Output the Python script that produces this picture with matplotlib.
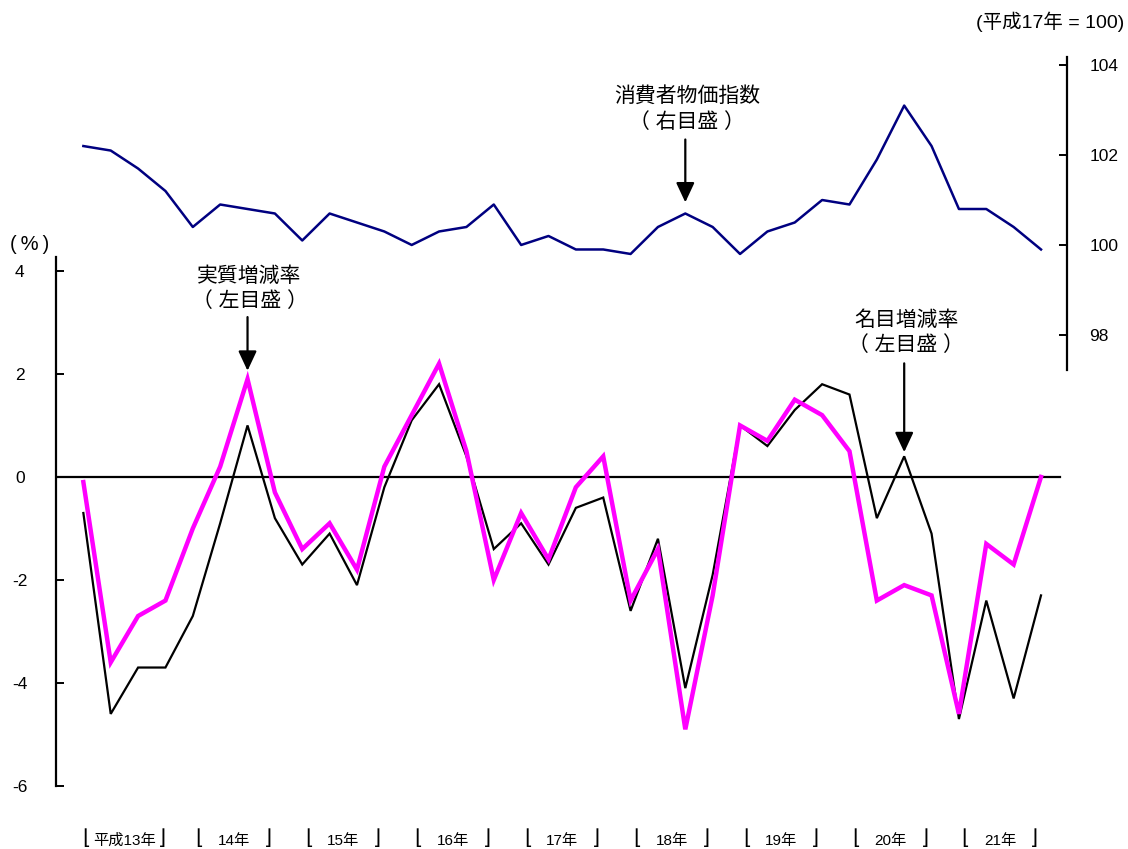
import matplotlib
matplotlib.use("Agg")
import matplotlib.pyplot as plt
from matplotlib.transforms import blended_transform_factory

plt.rcParams['font.family'] = ['Liberation Sans', 'Noto Sans CJK JP', 'DejaVu Sans']

# Quarterly series, 平成13年 Q1 .. 平成21年 Q4
real_growth = [-0.1, -3.6, -2.7, -2.4, -1.0, 0.2, 1.9, -0.3,
               -1.4, -0.9, -1.8, 0.2, 1.2, 2.2, 0.5, -2.0,
               -0.7, -1.6, -0.2, 0.4, -2.4, -1.4, -4.9, -2.3,
               1.0, 0.7, 1.5, 1.2, 0.5, -2.4, -2.1, -2.3,
               -4.6, -1.3, -1.7, 0.0]
nominal_growth = [-0.7, -4.6, -3.7, -3.7, -2.7, -0.9, 1.0, -0.8,
                  -1.7, -1.1, -2.1, -0.2, 1.1, 1.8, 0.4, -1.4,
                  -0.9, -1.7, -0.6, -0.4, -2.6, -1.2, -4.1, -1.9,
                  1.0, 0.6, 1.3, 1.8, 1.6, -0.8, 0.4, -1.1,
                  -4.7, -2.4, -4.3, -2.3]
cpi = [102.2, 102.1, 101.7, 101.2, 100.4, 100.9, 100.8, 100.7,
       100.1, 100.7, 100.5, 100.3, 100.0, 100.3, 100.4, 100.9,
       100.0, 100.2, 99.9, 99.9, 99.8, 100.4, 100.7, 100.4,
       99.8, 100.3, 100.5, 101.0, 100.9, 101.9, 103.1, 102.2,
       100.8, 100.8, 100.4, 99.9]
years = ['平成13年', '14年', '15年', '16年', '17年', '18年', '19年', '20年', '21年']
left_ticks = [-6, -4, -2, 0, 2, 4]
right_ticks = [98, 100, 102, 104]

W, H = 1128, 849
fig = plt.figure(figsize=(W / 100, H / 100), dpi=100)
fig.patch.set_facecolor('white')

def fx(px):
    return px / W

def fy(py):
    return (H - py) / H

x = list(range(len(real_growth)))
xlim = (-1, 35.95)

# Left axis: growth rates
ax = fig.add_axes([fx(56), fy(786), fx(1067) - fx(56), fy(257) - fy(786)])
ax.set_xlim(*xlim)
ax.set_ylim(-6, 4.27)
for s in ['top', 'right', 'bottom']:
    ax.spines[s].set_visible(False)
ax.spines['left'].set_linewidth(1.6)
ax.set_xticks([])
ax.set_yticks(left_ticks)
ax.set_yticklabels([str(t) for t in left_ticks])
ax.tick_params(axis='y', direction='in', length=6, width=1.4, pad=26, labelsize=12.5)
for lab in ax.get_yticklabels():
    lab.set_horizontalalignment('center')

ax.axhline(0, xmin=0, xmax=(1060 - 56) / (1067 - 56), color='black', lw=1.6)
ax.plot(x, nominal_growth, color='black', lw=1.6, solid_joinstyle='miter')
ax.plot(x, real_growth, color='#FF00FF', lw=3.2, solid_joinstyle='miter')

# Right axis: consumer price index
cax = fig.add_axes([fx(56), fy(370), fx(1067) - fx(56), fy(57) - fy(370)])
cax.patch.set_visible(False)
cax.set_xlim(*xlim)
cax.set_ylim(97.22, 104.18)
for s in ['top', 'left', 'bottom']:
    cax.spines[s].set_visible(False)
cax.spines['right'].set_linewidth(1.6)
cax.set_xticks([])
cax.yaxis.tick_right()
cax.set_yticks(right_ticks)
cax.set_yticklabels([str(t) for t in right_ticks])
cax.tick_params(axis='y', direction='in', length=6, width=1.4, pad=16, labelsize=12.5)
cax.plot(x, cpi, color='#000080', lw=1.8)

# Unit labels
fig.text(fx(30), fy(244), '(\u2009%\u2009)', ha='center', va='center', fontsize=14.5)
fig.text(fx(1050), fy(22), '(平成17年 = 100)', ha='center', va='center', fontsize=14)

# Annotations with arrows
arrow_kw = dict(arrowstyle='-|>,head_length=0.6,head_width=0.28', color='black',
                lw=1.6, mutation_scale=20, shrinkA=0)

def label_arrow(axis, i, values, text, text_gap, arrow_len, shrink):
    axis.annotate('', xy=(i, values[i]), xycoords='data',
                  xytext=(0, arrow_len), textcoords='offset pixels',
                  arrowprops=dict(arrow_kw, shrinkB=shrink))
    axis.annotate(text, xy=(i, values[i]), xycoords='data',
                  xytext=(2, text_gap), textcoords='offset pixels',
                  ha='center', va='bottom', fontsize=15, linespacing=1.35)

label_arrow(ax, 6, real_growth, '実質増減率\n（ 左目盛 ）', 68, 62, 6)
label_arrow(cax, 22, cpi, '消費者物価指数\n（ 右目盛 ）', 82, 74, 8)
label_arrow(ax, 30, nominal_growth, '名目増減率\n（ 左目盛 ）', 101, 93, 3)

# Fiscal-year brackets under the plot: ⌊ at the first quarter, ⌋ at the last
trans = blended_transform_factory(ax.transData, fig.transFigure)
bracket_kw = dict(transform=trans, ha='center', va='baseline', fontsize=15,
                  family='DejaVu Sans', clip_on=False)
for k, name in enumerate(years):
    q0, q3 = 4 * k, 4 * k + 3
    mid = (q0 + q3) / 2
    inset = 0.12 if k == 0 else 0.25
    ax.text(q0 + inset, fy(844), '⌊', **bracket_kw)
    ax.text(q3 - inset, fy(844), '⌋', **bracket_kw)
    ax.text(mid, fy(841), name, transform=trans, ha='center', va='center',
            fontsize=11, clip_on=False)

fig.savefig('out.png', dpi=100, facecolor='white')
